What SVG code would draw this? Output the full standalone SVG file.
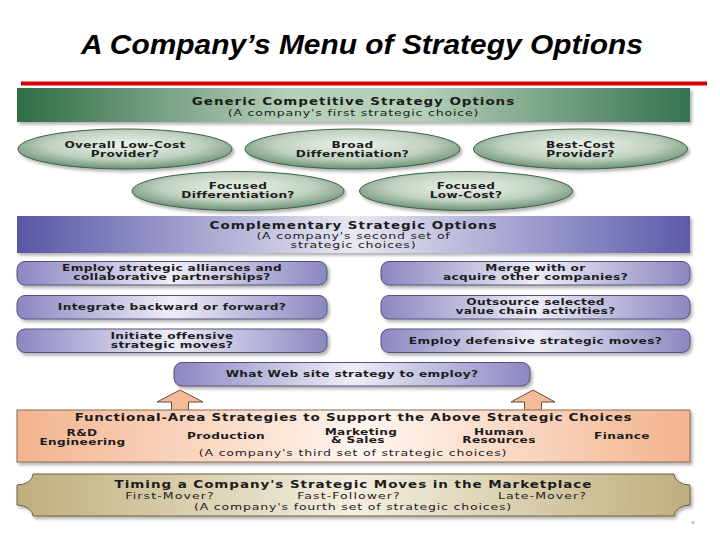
<svg xmlns="http://www.w3.org/2000/svg" width="720" height="540" viewBox="0 0 720 540">
<defs>
<style>
.t{font-family:"DejaVu Sans","Noto Sans",sans-serif;fill:#1c1c1c}
.hd{font-size:10px;font-weight:bold;letter-spacing:0.7px;text-anchor:middle}
.sb{font-size:9.3px;letter-spacing:0.6px;text-anchor:middle}
.bd{font-size:9px;font-weight:bold;letter-spacing:0.25px;text-anchor:middle}
.it{font-size:9.3px;letter-spacing:0.8px;text-anchor:middle}
.ell{fill:url(#gEll);stroke:#3e5e48;stroke-width:1}
.pbox{fill:url(#gPur);stroke:#55527a;stroke-width:1}
.arr{fill:#f6bb98;stroke:#6b4b3a;stroke-width:1}
</style>
<linearGradient id="gGreen" x1="0" y1="0" x2="1" y2="0">
<stop offset="0" stop-color="#2f6c45"/><stop offset="0.4" stop-color="#b5cfb8"/><stop offset="0.6" stop-color="#b5cfb8"/><stop offset="1" stop-color="#357350"/>
</linearGradient>
<linearGradient id="gPurB" x1="0" y1="0" x2="1" y2="0">
<stop offset="0" stop-color="#5856a6"/><stop offset="0.5" stop-color="#e9e8f4"/><stop offset="1" stop-color="#5c5aaa"/>
</linearGradient>
<linearGradient id="gPur" x1="0" y1="0" x2="1" y2="0">
<stop offset="0" stop-color="#8a87c2"/><stop offset="0.5" stop-color="#eeedf7"/><stop offset="1" stop-color="#8a87c2"/>
</linearGradient>
<linearGradient id="gOr" x1="0" y1="0" x2="1" y2="0">
<stop offset="0" stop-color="#f3b48e"/><stop offset="0.52" stop-color="#fff6f0"/><stop offset="1" stop-color="#f3b48e"/>
</linearGradient>
<linearGradient id="gTan" x1="0" y1="0" x2="1" y2="0">
<stop offset="0" stop-color="#bfae7c"/><stop offset="0.5" stop-color="#f3eedf"/><stop offset="1" stop-color="#bfae7c"/>
</linearGradient>
<radialGradient id="gEll" cx="0.5" cy="0.4" r="0.6">
<stop offset="0" stop-color="#eef3ec"/><stop offset="0.6" stop-color="#bfd1c0"/><stop offset="1" stop-color="#6b9275"/>
</radialGradient>
<filter id="sh" x="-5%" y="-30%" width="110%" height="170%">
<feDropShadow dx="2" dy="2.5" stdDeviation="1.5" flood-color="#000" flood-opacity="0.3"/>
</filter>
</defs>
<rect width="720" height="540" fill="#fff"/>

<g id="title">
<text x="362" y="54" font-family="Liberation Sans, Arial, sans-serif" font-size="27" font-weight="bold" font-style="italic" text-anchor="middle" textLength="562" lengthAdjust="spacingAndGlyphs" fill="#000">A Company’s Menu of Strategy Options</text>
<rect x="21" y="81.5" width="686" height="4" fill="#d40000"/>
</g>

<g id="generic-banner">
<rect x="17" y="88" width="673" height="34" fill="url(#gGreen)" filter="url(#sh)"/>
<text class="t hd" transform="matrix(1.35 0 0 1 353.5 0)" x="0" y="105.5">Generic Competitive Strategy Options</text>
<text class="t sb" transform="matrix(1.35 0 0 1 353.5 0)" x="0" y="116">(A company's first strategic choice)</text>
</g>

<g id="low-cost">
<ellipse class="ell" cx="125" cy="149" rx="107" ry="20" filter="url(#sh)"/>
<text class="t bd" transform="matrix(1.35 0 0 1 125 0)" x="0" y="148.5">Overall Low-Cost</text>
<text class="t bd" transform="matrix(1.35 0 0 1 125 0)" x="0" y="157.5">Provider?</text>
</g>
<g id="broad-diff">
<ellipse class="ell" cx="352.5" cy="149" rx="107.5" ry="20" filter="url(#sh)"/>
<text class="t bd" transform="matrix(1.35 0 0 1 352.5 0)" x="0" y="148.5">Broad</text>
<text class="t bd" transform="matrix(1.35 0 0 1 352.5 0)" x="0" y="157.5">Differentiation?</text>
</g>
<g id="best-cost">
<ellipse class="ell" cx="580.5" cy="149" rx="107" ry="20" filter="url(#sh)"/>
<text class="t bd" transform="matrix(1.35 0 0 1 580.5 0)" x="0" y="148.5">Best-Cost</text>
<text class="t bd" transform="matrix(1.35 0 0 1 580.5 0)" x="0" y="157.5">Provider?</text>
</g>
<g id="focused-diff">
<ellipse class="ell" cx="238" cy="191" rx="106" ry="19.5" filter="url(#sh)"/>
<text class="t bd" transform="matrix(1.35 0 0 1 238 0)" x="0" y="189.5">Focused</text>
<text class="t bd" transform="matrix(1.35 0 0 1 238 0)" x="0" y="198.5">Differentiation?</text>
</g>
<g id="focused-low">
<ellipse class="ell" cx="466" cy="191" rx="106.5" ry="19.5" filter="url(#sh)"/>
<text class="t bd" transform="matrix(1.35 0 0 1 466 0)" x="0" y="189.5">Focused</text>
<text class="t bd" transform="matrix(1.35 0 0 1 466 0)" x="0" y="198.5">Low-Cost?</text>
</g>

<g id="complementary-banner">
<rect x="17" y="216" width="673" height="37" fill="url(#gPurB)" filter="url(#sh)"/>
<text class="t hd" transform="matrix(1.35 0 0 1 353.5 0)" x="0" y="229">Complementary Strategic Options</text>
<text class="t sb" transform="matrix(1.35 0 0 1 353.5 0)" x="0" y="239">(A company's second set of</text>
<text class="t sb" transform="matrix(1.35 0 0 1 353.5 0)" x="0" y="248.2">strategic choices)</text>
</g>

<g id="alliances">
<rect class="pbox" x="17" y="261.5" width="310" height="23.5" rx="8" filter="url(#sh)"/>
<text class="t bd" transform="matrix(1.35 0 0 1 172 0)" x="0" y="271">Employ strategic alliances and</text>
<text class="t bd" transform="matrix(1.35 0 0 1 172 0)" x="0" y="279.8">collaborative partnerships?</text>
</g>
<g id="merge">
<rect class="pbox" x="381" y="261.5" width="309" height="23.5" rx="8" filter="url(#sh)"/>
<text class="t bd" transform="matrix(1.35 0 0 1 535.5 0)" x="0" y="271">Merge with or</text>
<text class="t bd" transform="matrix(1.35 0 0 1 535.5 0)" x="0" y="279.8">acquire other companies?</text>
</g>
<g id="integrate">
<rect class="pbox" x="17" y="295.5" width="310" height="23.5" rx="8" filter="url(#sh)"/>
<text class="t bd" transform="matrix(1.35 0 0 1 172 0)" x="0" y="310.2">Integrate backward or forward?</text>
</g>
<g id="outsource">
<rect class="pbox" x="381" y="295.5" width="309" height="23.5" rx="8" filter="url(#sh)"/>
<text class="t bd" transform="matrix(1.35 0 0 1 535.5 0)" x="0" y="305">Outsource selected</text>
<text class="t bd" transform="matrix(1.35 0 0 1 535.5 0)" x="0" y="313.8">value chain activities?</text>
</g>
<g id="offensive">
<rect class="pbox" x="17" y="329" width="310" height="23.5" rx="8" filter="url(#sh)"/>
<text class="t bd" transform="matrix(1.35 0 0 1 172 0)" x="0" y="338.8">Initiate offensive</text>
<text class="t bd" transform="matrix(1.35 0 0 1 172 0)" x="0" y="347.6">strategic moves?</text>
</g>
<g id="defensive">
<rect class="pbox" x="381" y="329" width="309" height="23.5" rx="8" filter="url(#sh)"/>
<text class="t bd" transform="matrix(1.35 0 0 1 535.5 0)" x="0" y="343.6">Employ defensive strategic moves?</text>
</g>
<g id="website">
<rect class="pbox" x="174" y="362.5" width="356" height="23.5" rx="8" filter="url(#sh)"/>
<text class="t bd" transform="matrix(1.35 0 0 1 352 0)" x="0" y="377.4">What Web site strategy to employ?</text>
</g>

<g id="connectors">
<path class="arr" d="M180,390 L203,402 L188.5,402 L188.5,411 L171.5,411 L171.5,402 L157,402 Z"/>
<path class="arr" d="M533,390 L555,402 L541.5,402 L541.5,411 L524.5,411 L524.5,402 L511,402 Z"/>
</g>

<g id="functional">
<rect x="17" y="410" width="673" height="52" fill="url(#gOr)" stroke="#8c6a55" stroke-width="1" filter="url(#sh)"/>
<text class="t hd" transform="matrix(1.35 0 0 1 353.5 0)" x="0" y="421.5" style="letter-spacing:0.55px">Functional-Area Strategies to Support the Above Strategic Choices</text>
<text class="t bd" transform="matrix(1.35 0 0 1 82 0)" x="0" y="436">R&amp;D</text>
<text class="t bd" transform="matrix(1.35 0 0 1 82.5 0)" x="0" y="445">Engineering</text>
<text class="t bd" transform="matrix(1.35 0 0 1 226 0)" x="0" y="439">Production</text>
<text class="t bd" transform="matrix(1.35 0 0 1 361 0)" x="0" y="435">Marketing</text>
<text class="t bd" transform="matrix(1.35 0 0 1 358 0)" x="0" y="443.5">&amp; Sales</text>
<text class="t bd" transform="matrix(1.35 0 0 1 499 0)" x="0" y="435">Human</text>
<text class="t bd" transform="matrix(1.35 0 0 1 499 0)" x="0" y="443.5">Resources</text>
<text class="t bd" transform="matrix(1.35 0 0 1 622 0)" x="0" y="439">Finance</text>
<text class="t sb" transform="matrix(1.35 0 0 1 353 0)" x="0" y="456">(A company's third set of strategic choices)</text>
</g>

<g id="timing">
<path d="M33,474 H674 A16 11 0 0 0 690 485 V505 A16 11 0 0 0 674 516 H33 A16 11 0 0 0 17 505 V485 A16 11 0 0 0 33 474 Z" fill="url(#gTan)" stroke="#6b6142" stroke-width="1" filter="url(#sh)"/>
<text class="t hd" transform="matrix(1.35 0 0 1 353.5 0)" x="0" y="488.2">Timing a Company's Strategic Moves in the Marketplace</text>
<text class="t it" transform="matrix(1.35 0 0 1 170 0)" x="0" y="498.6">First-Mover?</text>
<text class="t it" transform="matrix(1.35 0 0 1 349 0)" x="0" y="498.6">Fast-Follower?</text>
<text class="t it" transform="matrix(1.35 0 0 1 542.5 0)" x="0" y="498.6">Late-Mover?</text>
<text class="t sb" transform="matrix(1.35 0 0 1 353 0)" x="0" y="509.8">(A company's fourth set of strategic choices)</text>
</g>

<text x="693" y="524" font-family="DejaVu Sans, sans-serif" font-size="5" fill="#555" text-anchor="middle">v</text>
</svg>
